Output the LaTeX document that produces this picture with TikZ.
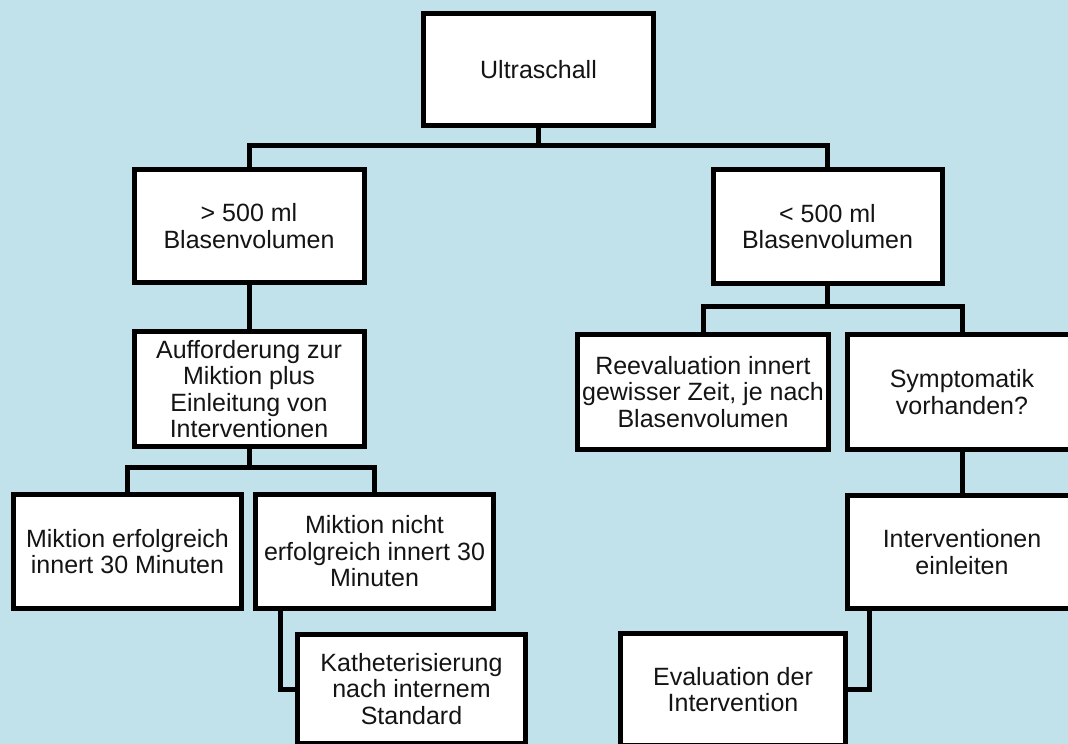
\documentclass[tikz,border=0pt]{standalone}
\usepackage{fontspec}
\setmainfont{Liberation Sans}
\definecolor{bgblue}{RGB}{193,225,235}
\definecolor{txt}{RGB}{20,20,20}
\tikzset{
  box/.style={draw=black, fill=white, line width=5pt, inner sep=0pt, outer sep=0pt,
    align=center, text=txt, font=\fontsize{25pt}{26.5pt}\selectfont},
  conn/.style={draw=black, line width=5pt}
}
\begin{document}
\begin{tikzpicture}[x=1pt,y=-1pt]
\useasboundingbox (0,0) rectangle (1068,744);
\fill[bgblue] (0,0) rectangle (1068,744);
\clip (0,0) rectangle (1068,744);
\node[box, minimum width=230pt, minimum height=112pt] (u) at (538.5,69.5) {Ultraschall};
\node[box, minimum width=230pt, minimum height=113pt] (gt) at (249,226) {> 500 ml\\Blasenvolumen};
\node[box, minimum width=229pt, minimum height=114pt] (lt) at (827.5,226.5) {< 500 ml\\Blasenvolumen};
\node[box, minimum width=230pt, minimum height=115pt] (auf) at (249,389) {Aufforderung zur\\Miktion plus\\Einleitung von\\Interventionen};
\node[box, minimum width=251pt, minimum height=115pt] (ree) at (703,392) {Reevaluation innert\\gewisser Zeit, je nach\\Blasenvolumen};
\node[box, minimum width=229pt, minimum height=115pt] (sym) at (962,392) {Symptomatik\\vorhanden?};
\node[box, minimum width=228pt, minimum height=114pt] (me) at (127.5,551.5) {Miktion erfolgreich\\innert 30 Minuten};
\node[box, minimum width=238pt, minimum height=114pt] (mn) at (374.5,551.5) {Miktion nicht\\erfolgreich innert 30\\Minuten};
\node[box, minimum width=228pt, minimum height=109pt] (kat) at (411.5,689) {Katheterisierung\\nach internem\\Standard};
\node[box, minimum width=229pt, minimum height=113pt] (int) at (962,552) {Interventionen\\einleiten};
\node[box, minimum width=225pt, minimum height=112pt] (ev) at (733,689.5) {Evaluation der\\Intervention};
% connectors
\draw[conn] (u.south) -- ++(0,19.5) -| (gt.north);
\draw[conn] (u.south) -- ++(0,19.5) -| (lt.north);
\draw[conn] (gt.south) -- (auf.north);
\draw[conn] (lt.south) -- ++(0,23) -| (ree.north);
\draw[conn] (lt.south) -- ++(0,23) -| (sym.north);
\draw[conn] (auf.south) -- ++(0,20.5) -| (me.north);
\draw[conn] (auf.south) -- ++(0,20.5) -| (mn.north);
\draw[conn] ([xshift=-94.5pt]mn.south) |- (kat.west);
\draw[conn] (sym.south) -- (int.north);
\draw[conn] ([xshift=-93pt]int.south) |- (ev.east);
\end{tikzpicture}
\end{document}
